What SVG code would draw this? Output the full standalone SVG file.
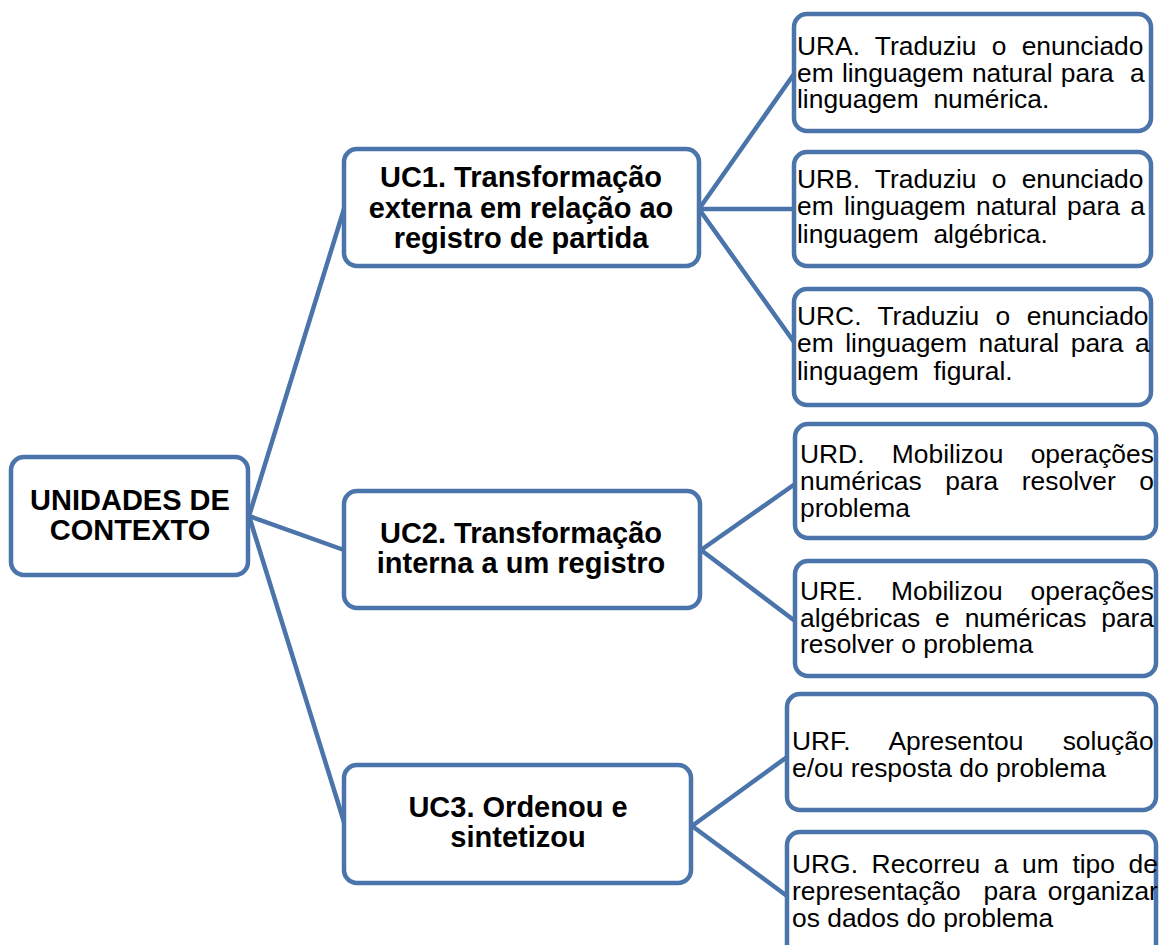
<svg xmlns="http://www.w3.org/2000/svg" width="1160" height="945" viewBox="0 0 1160 945">
<style>
.box{fill:#fff;stroke:#4a74aa;stroke-width:4.5}
.con{stroke:#4a74aa;stroke-width:4.5;fill:none;stroke-linecap:round}
.b{font-family:"Liberation Sans",Arial,sans-serif;font-weight:bold;font-size:29px;fill:#000;text-anchor:middle}
.r{font-family:"Liberation Sans",Arial,sans-serif;font-size:26.4px;fill:#000}
</style>
<rect width="1160" height="945" fill="#fff"/>
<g id="connectors">
<line class="con" x1="249" y1="516" x2="344" y2="209"/>
<line class="con" x1="249" y1="516" x2="344" y2="550"/>
<line class="con" x1="249" y1="516" x2="344" y2="822"/>
<line class="con" x1="699" y1="209" x2="794" y2="74"/>
<line class="con" x1="699" y1="209" x2="794" y2="209"/>
<line class="con" x1="699" y1="209" x2="794" y2="342"/>
<line class="con" x1="701" y1="550" x2="795" y2="484"/>
<line class="con" x1="701" y1="550" x2="795" y2="621"/>
<line class="con" x1="692" y1="826" x2="787" y2="757"/>
<line class="con" x1="692" y1="826" x2="787" y2="896"/>
</g>
<g id="root">
<rect class="box" x="11" y="457" width="237" height="118" rx="13"/>
<text class="b" x="130" y="510">UNIDADES DE</text>
<text class="b" x="130" y="540">CONTEXTO</text>
</g>
<g id="uc1">
<rect class="box" x="344" y="149" width="355" height="117" rx="13"/>
<text class="b" x="521" y="187">UC1. Transformação</text>
<text class="b" x="521" y="217.5">externa em relação ao</text>
<text class="b" x="521" y="248">registro de partida</text>
</g>
<g id="uc2">
<rect class="box" x="344" y="491" width="356" height="117" rx="13"/>
<text class="b" x="521" y="543">UC2. Transformação</text>
<text class="b" x="521" y="573">interna a um registro</text>
</g>
<g id="uc3">
<rect class="box" x="344" y="765" width="347" height="118" rx="13"/>
<text class="b" x="518" y="817">UC3. Ordenou e</text>
<text class="b" x="518" y="847">sintetizou</text>
</g>
<g id="ura">
<rect class="box" x="794" y="14" width="357" height="117" rx="13"/>
<text class="r" x="797" y="55" word-spacing="7.9">URA. Traduziu o enunciado</text>
<text class="r" x="797" y="82" xml:space="preserve" word-spacing="0.9">em linguagem natural para  a</text>
<text class="r" x="797" y="108" xml:space="preserve">linguagem  numérica.</text>
</g>
<g id="urb">
<rect class="box" x="794" y="152" width="357" height="114" rx="13"/>
<text class="r" x="797" y="188" word-spacing="7.9">URB. Traduziu o enunciado</text>
<text class="r" x="797" y="215" word-spacing="3">em linguagem natural para a</text>
<text class="r" x="797" y="243" xml:space="preserve">linguagem  algébrica.</text>
</g>
<g id="urc">
<rect class="box" x="794" y="289" width="357" height="116" rx="13"/>
<text class="r" x="797" y="325" word-spacing="9.1">URC. Traduziu o enunciado</text>
<text class="r" x="797" y="352" word-spacing="4.2">em linguagem natural para a</text>
<text class="r" x="797" y="380" xml:space="preserve">linguagem  figural.</text>
</g>
<g id="urd">
<rect class="box" x="795" y="424" width="361" height="114" rx="13"/>
<text class="r" x="800" y="463" word-spacing="20">URD. Mobilizou operações</text>
<text class="r" x="800" y="490" word-spacing="16.3">numéricas para resolver o</text>
<text class="r" x="800" y="517">problema</text>
</g>
<g id="ure">
<rect class="box" x="795" y="561" width="361" height="115" rx="13"/>
<text class="r" x="800" y="600" word-spacing="20.7">URE. Mobilizou operações</text>
<text class="r" x="800" y="627" word-spacing="7.5">algébricas e numéricas para</text>
<text class="r" x="800" y="653">resolver o problema</text>
</g>
<g id="urf">
<rect class="box" x="787" y="694" width="369" height="116" rx="13"/>
<text class="r" x="792" y="750" word-spacing="31.9">URF. Apresentou solução</text>
<text class="r" x="792" y="777">e/ou resposta do problema</text>
</g>
<g id="urg">
<rect class="box" x="787" y="832" width="369" height="125" rx="13"/>
<text class="r" x="792" y="873" word-spacing="6.3">URG. Recorreu a um tipo de</text>
<text class="r" x="792" y="900" xml:space="preserve" word-spacing="4.1">representação  para organizar</text>
<text class="r" x="792" y="927">os dados do problema</text>
</g>
</svg>
